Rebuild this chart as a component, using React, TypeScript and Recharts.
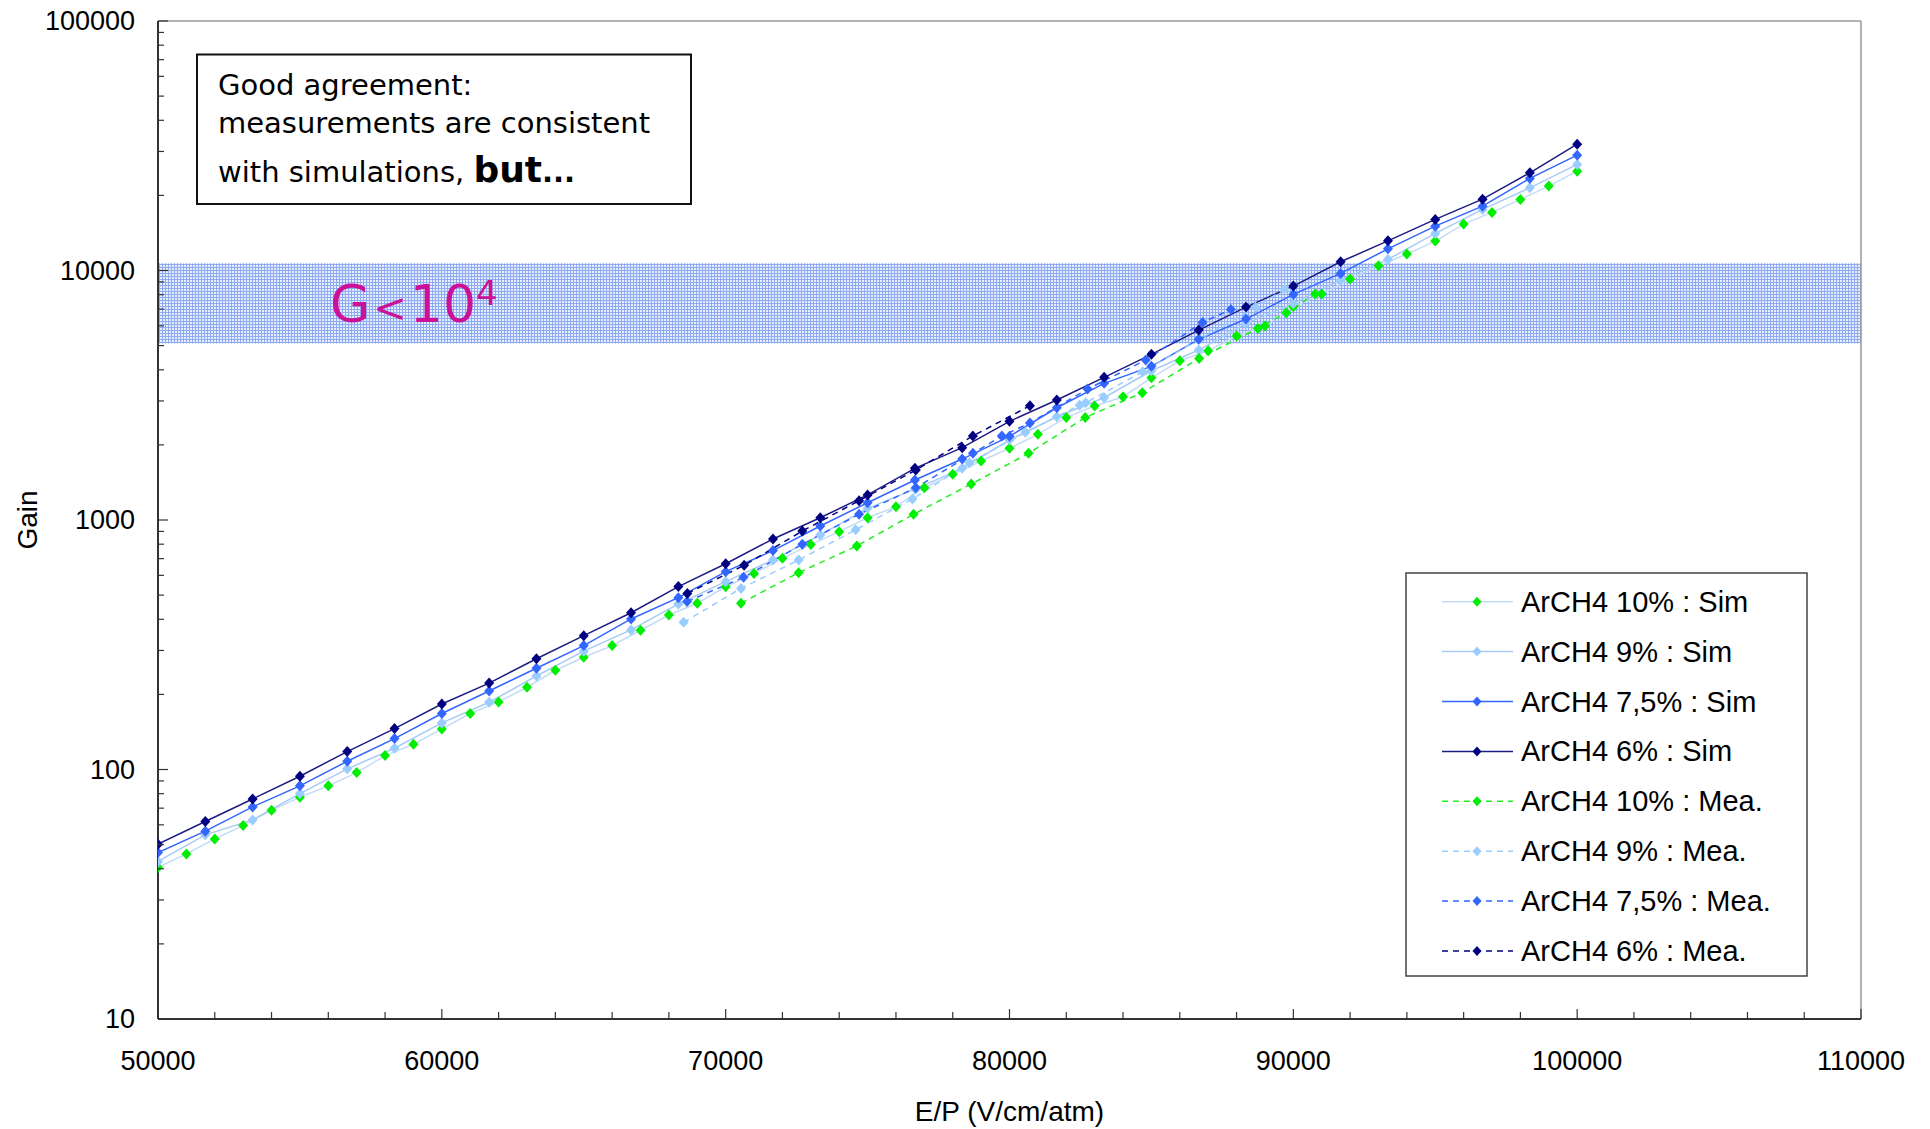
import React from "react";
import { LineChart, Line, XAxis, YAxis, ReferenceArea, ReferenceLine } from "recharts";

// E/P sample points of the simulations (V/cm/atm)
const simX = [
  50000, 51667, 53333, 55000, 56667, 58333, 60000, 61667, 63333, 65000, 66667,
  68333, 70000, 71667, 73333, 75000, 76667, 78333, 80000, 81667, 83333, 85000,
  86667, 88333, 90000, 91667, 93333, 95000, 96667, 98333, 100000,
];
const sim10X = [
  50000, 51000, 52000, 53000, 54000, 55000, 56000, 57000, 58000, 59000, 60000,
  61000, 62000, 63000, 64000, 65000, 66000, 67000, 68000, 69000, 70000, 71000,
  72000, 73000, 74000, 75000, 76000, 77000, 78000, 79000, 80000, 81000, 82000,
  83000, 84000, 85000, 86000, 87000, 88000, 89000, 90000, 91000, 92000, 93000,
  94000, 95000, 96000, 97000, 98000, 99000, 100000,
];

// simulated gain
const gainSim10 = [
  40.5, 45.9, 52.7, 59.6, 68.7, 77.4, 86, 97.2, 113.7, 126.3, 145.4, 167.6,
  186.6, 213.6, 249.9, 281.8, 313.7, 361.4, 416, 464, 540, 611, 702, 797, 898,
  1021, 1131, 1347, 1525, 1723, 1938, 2204, 2578, 2862, 3119, 3716, 4347, 4769,
  5462, 5988, 7154, 8044, 9237, 10445, 11634, 13120, 15350, 17090, 19270, 21790,
  25010,
];
const gainSim9 = [
  42.8, 54.7, 62.8, 80.1, 100.6, 121.7, 153.7, 186, 237, 298, 362.5, 460.8, 566,
  691, 871, 1114, 1330, 1611, 2092, 2593, 3090, 3965, 4799, 6137, 7381, 9152,
  11080, 14080, 17570, 21450, 26610,
];
const gainSim75 = [
  46.5, 56.6, 70.8, 86, 107.9, 133, 167.6, 206.4, 254.6, 313.7, 401.2, 488.4,
  620.9, 753.8, 946, 1173, 1446, 1755, 2165, 2818, 3529, 4128, 5297, 6388, 8022,
  9736, 12215, 15060, 18110, 23390, 28990,
];
const gainSim6 = [
  50.2, 61.9, 76.2, 94, 118, 145.9, 183, 222, 278, 344, 425, 541, 668, 839, 1021,
  1260, 1611, 1949, 2486, 3026, 3730, 4612, 5770, 7134, 8661, 10837, 13150,
  16020, 19320, 24630, 32090,
];

// measured gain
const mea10X = [70540, 72570, 74620, 76620, 78650, 80670, 82670, 84680, 86680, 88750, 89750, 90770];
const gainMea10 = [464, 615, 787, 1054, 1394, 1850, 2578, 3236, 4444, 5861, 6769, 8044];
const mea9X = [68520, 70540, 72570, 74580, 76580, 78590, 80560, 82470, 82680, 84690, 88670, 89690];
const gainMea9 = [389, 532, 691, 914, 1214, 1697, 2245, 2884, 2951, 3926, 7126, 8424];
const mea75X = [68640, 70630, 72700, 74700, 76700, 78710, 79730, 80720, 82750, 84800, 86800, 87800];
const gainMea75 = [471, 589, 799, 1054, 1347, 1850, 2171, 2447, 3349, 4375, 6194, 6983];
const mea6X = [68650, 70650, 72700, 74700, 76700, 78710, 80720];
const gainMea6 = [508, 658, 903, 1195, 1586, 2171, 2871];

// axes
const xMajor = [50000, 60000, 70000, 80000, 90000, 100000, 110000];
const xTicks = [
  50000, 52000, 54000, 56000, 58000, 60000, 62000, 64000, 66000, 68000, 70000,
  72000, 74000, 76000, 78000, 80000, 82000, 84000, 86000, 88000, 90000, 92000,
  94000, 96000, 98000, 100000, 102000, 104000, 106000, 108000, 110000,
];
const yMajor = [10, 100, 1000, 10000, 100000];
const yTicks = yMajor.flatMap((d, i) =>
  i === yMajor.length - 1 ? [d] : [1, 2, 3, 4, 5, 6, 7, 8, 9].map((m) => d * m)
);

// gain window that is shaded
const bandLow = 5100;
const bandHigh = 10700;

const W = 1930;
const H = 1129;
const FONT = '"Liberation Sans", Arial, Helvetica, sans-serif';
const NOTE_FONT = '"Comic Sans MS", "DejaVu Sans", sans-serif';

const toPoints = (xs: number[], ys: number[]) => xs.map((x, i) => ({ x, y: ys[i] }));

const series = [
  { name: "ArCH4 10% : Sim", data: toPoints(sim10X, gainSim10), line: "#c4dbf6", marker: "#00ee00", dashed: false },
  { name: "ArCH4 9% : Sim", data: toPoints(simX, gainSim9), line: "#a6cbf7", marker: "#99ccff", dashed: false },
  { name: "ArCH4 7,5% : Sim", data: toPoints(simX, gainSim75), line: "#3366ff", marker: "#3366ff", dashed: false },
  { name: "ArCH4 6% : Sim", data: toPoints(simX, gainSim6), line: "#1c1c84", marker: "#000080", dashed: false },
  { name: "ArCH4 10% : Mea.", data: toPoints(mea10X, gainMea10), line: "#22ee22", marker: "#00ee00", dashed: true },
  { name: "ArCH4 9% : Mea.", data: toPoints(mea9X, gainMea9), line: "#99ccff", marker: "#99ccff", dashed: true },
  { name: "ArCH4 7,5% : Mea.", data: toPoints(mea75X, gainMea75), line: "#3366ff", marker: "#3366ff", dashed: true },
  { name: "ArCH4 6% : Mea.", data: toPoints(mea6X, gainMea6), line: "#000080", marker: "#000080", dashed: true },
];

const diamondPath = (cx: number, cy: number, r = 5) =>
  `M${cx},${cy - r - 0.5}L${cx + r},${cy}L${cx},${cy + r + 0.5}L${cx - r},${cy}Z`;

const diamond = (fill: string) => (p: any) => {
  const { cx, cy, index } = p;
  if (cx == null || cy == null) return <g key={index} />;
  return <path key={index} d={diamondPath(cx, cy)} fill={fill} />;
};

// log axis: inward tick marks, labels only on decades
const YTick = (props: any) => {
  const { x, y, payload } = props;
  const major = yMajor.includes(payload.value);
  return (
    <g>
      <line x1={x} y1={y} x2={x + (major ? 10 : 6)} y2={y} stroke="#333" strokeWidth={1.2} />
      {major && (
        <text x={x - 23} y={y} dy="0.35em" textAnchor="end" fontFamily={FONT} fontSize={27} fill="#000">
          {payload.value}
        </text>
      )}
    </g>
  );
};

const XTick = (props: any) => {
  const { x, y, payload } = props;
  const major = xMajor.includes(payload.value);
  return (
    <g>
      <line x1={x} y1={y} x2={x} y2={y - (major ? 10 : 7)} stroke="#333" strokeWidth={1.2} />
      {major && (
        <text x={x} y={y + 51} textAnchor="middle" fontFamily={FONT} fontSize={27} fill="#000">
          {payload.value}
        </text>
      )}
    </g>
  );
};

const XTitle = (props: any) => {
  const { viewBox } = props;
  if (!viewBox) return null;
  return (
    <text
      x={viewBox.x + viewBox.width / 2}
      y={viewBox.y + 102}
      textAnchor="middle"
      fontFamily={FONT}
      fontSize={28}
      fill="#000"
    >
      E/P (V/cm/atm)
    </text>
  );
};

// "G < 10^4" written inside the shaded band
const BandLabel = (props: any) => {
  const { viewBox } = props;
  if (!viewBox) return null;
  return (
    <text x={viewBox.x + 172} y={viewBox.y + 59} fill="#cc1199" fontFamily={NOTE_FONT} fontSize={52}>
      G
      <tspan dx={3} fontSize={40}>&lt;</tspan>
      <tspan dx={3}>10</tspan>
      <tspan dy={-17} fontSize={34}>4</tspan>
    </text>
  );
};

const NoteBox = () => (
  <g fontFamily={NOTE_FONT} fill="#000">
    <rect x={197} y={54.5} width={494} height={149.5} fill="#fff" stroke="#111" strokeWidth={2} />
    <text x={218} y={95} fontSize={29}>Good agreement:</text>
    <text x={218} y={133} fontSize={29}>measurements are consistent</text>
    <text x={218} y={182} fontSize={29}>
      with simulations,{" "}
      <tspan fontSize={36} fontWeight="bold">but</tspan>
      <tspan fontWeight="bold">...</tspan>
    </text>
  </g>
);

const LegendBox = () => {
  const left = 1406;
  const top = 573;
  return (
    <g>
      <rect x={left} y={top} width={401} height={403} fill="#fff" stroke="#444" strokeWidth={1.5} />
      {series.map((s, i) => {
        const cy = top + 28.7 + i * 49.9;
        return (
          <g key={s.name}>
            <line
              x1={left + 36}
              y1={cy}
              x2={left + 107}
              y2={cy}
              stroke={s.line}
              strokeWidth={1.5}
              strokeDasharray={s.dashed ? "6 5" : undefined}
            />
            <path d={diamondPath(left + 71, cy, 4.5)} fill={s.marker} />
            <text x={left + 115} y={cy + 10} fontFamily={FONT} fontSize={29} fill="#000">
              {s.name}
            </text>
          </g>
        );
      })}
    </g>
  );
};

export default function App() {
  return (
    <div style={{ position: "absolute", left: 0, top: 0, width: W, height: H, background: "#fff" }}>
      <LineChart width={W} height={H} margin={{ top: 21, right: 69, bottom: 40, left: 8 }}>
        <defs>
          <pattern id="bandGrid" width={3} height={3} patternUnits="userSpaceOnUse">
            <rect width={3} height={3} fill="#e6edfc" />
            <rect width={1} height={3} fill="#8eabf2" />
            <rect width={3} height={1} fill="#8eabf2" />
          </pattern>
        </defs>
        <XAxis
          type="number"
          dataKey="x"
          domain={[50000, 110000]}
          allowDataOverflow
          ticks={xTicks}
          interval={0}
          tick={<XTick />}
          tickLine={false}
          tickSize={0}
          tickMargin={0}
          height={70}
          axisLine={{ stroke: "#333", strokeWidth: 2 }}
          label={<XTitle />}
        />
        <YAxis
          type="number"
          dataKey="y"
          scale="log"
          domain={[10, 100000]}
          allowDataOverflow
          ticks={yTicks}
          interval={0}
          tick={<YTick />}
          tickLine={false}
          tickSize={0}
          tickMargin={0}
          width={150}
          axisLine={{ stroke: "#333", strokeWidth: 2 }}
        />
        <ReferenceArea
          y1={bandLow}
          y2={bandHigh}
          x1={50000}
          x2={110000}
          fill="url(#bandGrid)"
          fillOpacity={1}
          stroke="none"
          label={<BandLabel />}
        />
        <ReferenceLine y={100000} stroke="#9a9a9a" strokeWidth={1.5} />
        <ReferenceLine x={110000} stroke="#9a9a9a" strokeWidth={1.5} />
        {series.map((s) => (
          <Line
            key={s.name}
            data={s.data}
            dataKey="y"
            name={s.name}
            type="linear"
            stroke={s.line}
            strokeWidth={1.5}
            strokeDasharray={s.dashed ? "6 5" : undefined}
            dot={diamond(s.marker)}
            activeDot={false}
            isAnimationActive={false}
          />
        ))}
        <NoteBox />
        <LegendBox />
        <text
          x={27}
          y={520}
          transform="rotate(-90 27 520)"
          dy="0.35em"
          textAnchor="middle"
          fontFamily={FONT}
          fontSize={28}
          fill="#000"
        >
          Gain
        </text>
      </LineChart>
    </div>
  );
}
